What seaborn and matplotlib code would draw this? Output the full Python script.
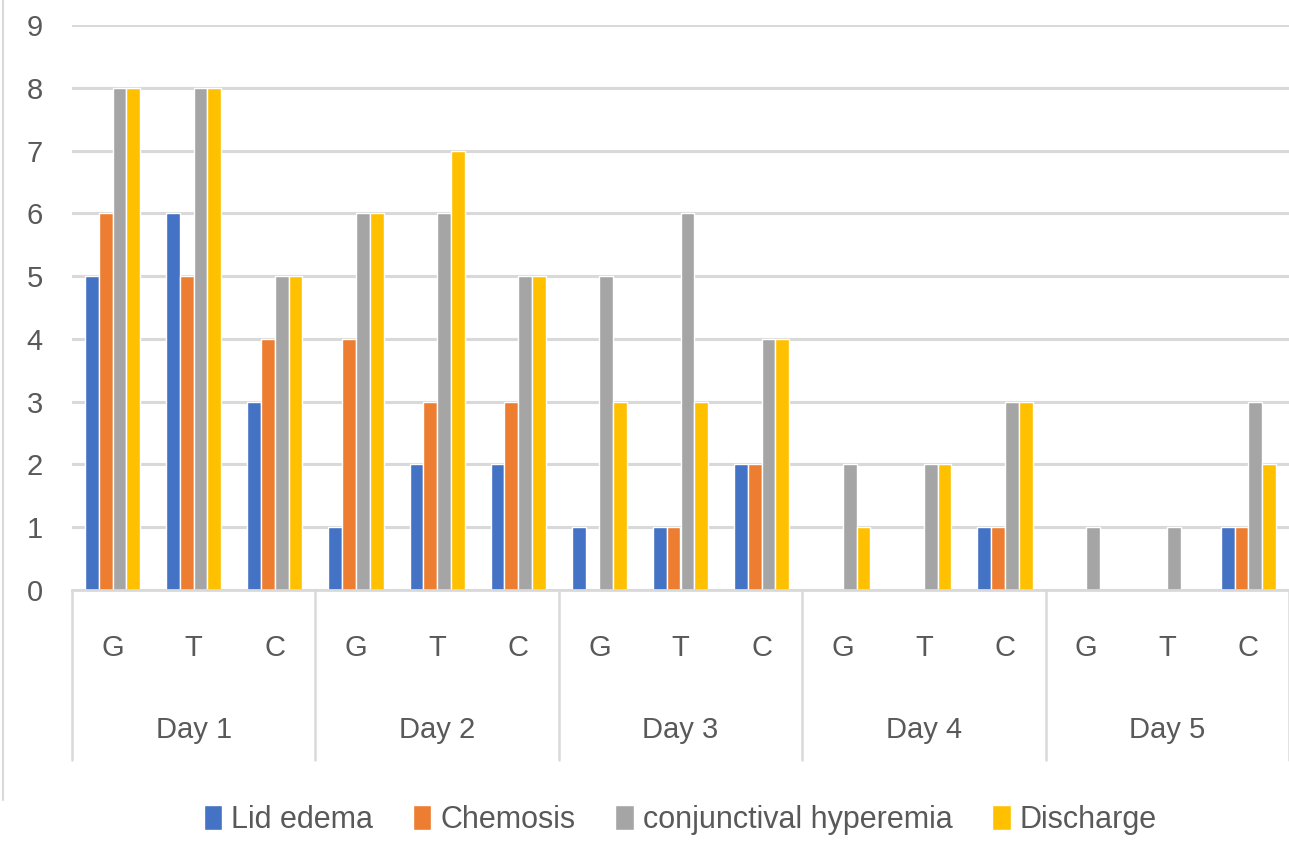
import pandas as pd
import matplotlib
matplotlib.use('Agg')
import matplotlib.pyplot as plt
import matplotlib.transforms as mtransforms
from matplotlib.lines import Line2D
import seaborn as sns

# Data
days = ['Day 1', 'Day 2', 'Day 3', 'Day 4', 'Day 5']
groups = ['G', 'T', 'C']
series = ['Lid edema', 'Chemosis', 'conjunctival hyperemia', 'Discharge']

lid_edema = [5, 6, 3, 1, 2, 2, 1, 1, 2, 0, 0, 1, 0, 0, 1]
chemosis = [6, 5, 4, 4, 3, 3, 0, 1, 2, 0, 0, 1, 0, 0, 1]
hyperemia = [8, 8, 5, 6, 6, 5, 5, 6, 4, 2, 2, 3, 1, 1, 3]
discharge = [8, 8, 5, 6, 7, 5, 3, 3, 4, 1, 2, 3, 0, 0, 2]

colors = ['#4472C4', '#ED7D31', '#A5A5A5', '#FFC000']

# Build a long table for seaborn
cats = [f'{d}|{g}' for d in days for g in groups]
rows = []
for name, vals in zip(series, [lid_edema, chemosis, hyperemia, discharge]):
    for c, v in zip(cats, vals):
        rows.append({'cat': c, 'series': name, 'value': v})
df = pd.DataFrame(rows)

sns.set_style('white')
plt.rcParams['font.family'] = ['Liberation Sans Narrow', 'Liberation Sans', 'DejaVu Sans']

W, H = 1289, 843
fig = plt.figure(figsize=(W / 100, H / 100), dpi=100)
ax = fig.add_axes([72 / W, (H - 590) / H, (1289 - 72) / W, (590 - 25) / H])

sns.barplot(data=df, x='cat', y='value', hue='series', order=cats, hue_order=series,
            palette=colors, width=0.68, saturation=1, ax=ax, legend=True)

ax.set_ylim(0, 9)
ax.set_xlim(-0.5, len(cats) - 0.5)
ax.set_yticks(range(10))
ax.tick_params(axis='y', length=0, labelsize=21, labelcolor='#595959', pad=21)
ax.set_xticks([])
ax.set_xlabel('')
ax.set_ylabel('')
ax.yaxis.grid(True, color='#D9D9D9', linewidth=2.2)
ax.set_axisbelow(True)
for s in ['top', 'right', 'left']:
    ax.spines[s].set_visible(False)
ax.spines['bottom'].set_color('#D9D9D9')
ax.spines['bottom'].set_linewidth(2)

# Two-level category axis drawn below the plot
trans = mtransforms.blended_transform_factory(ax.transData, ax.transAxes)
for i, c in enumerate(cats):
    ax.text(i, -0.103, c.split('|')[1], transform=trans, ha='center', va='center',
            fontsize=21, color='#595959')
for j, d in enumerate(days):
    ax.text(j * 3 + 1, -0.248, d, transform=trans, ha='center', va='center',
            fontsize=21, color='#595959')
for k in range(len(days) + 1):
    x = k * 3 - 0.5
    ax.plot([x, x], [0, -0.30], transform=trans, color='#D9D9D9', lw=1.8, clip_on=False)

# Legend along the bottom
ax.legend(loc='center', bbox_to_anchor=(0.5, (590 - 820) / 565), ncol=4, frameon=False,
          fontsize=22, handlelength=0.6, handleheight=0.9, handletextpad=0.3,
          columnspacing=1.3, labelcolor='#595959')

# Chart frame line at far left
fig.add_artist(Line2D([3 / W, 3 / W], [1, (H - 800) / H], color='#D9D9D9', lw=1.5))

fig.savefig('out.png', dpi=100)
